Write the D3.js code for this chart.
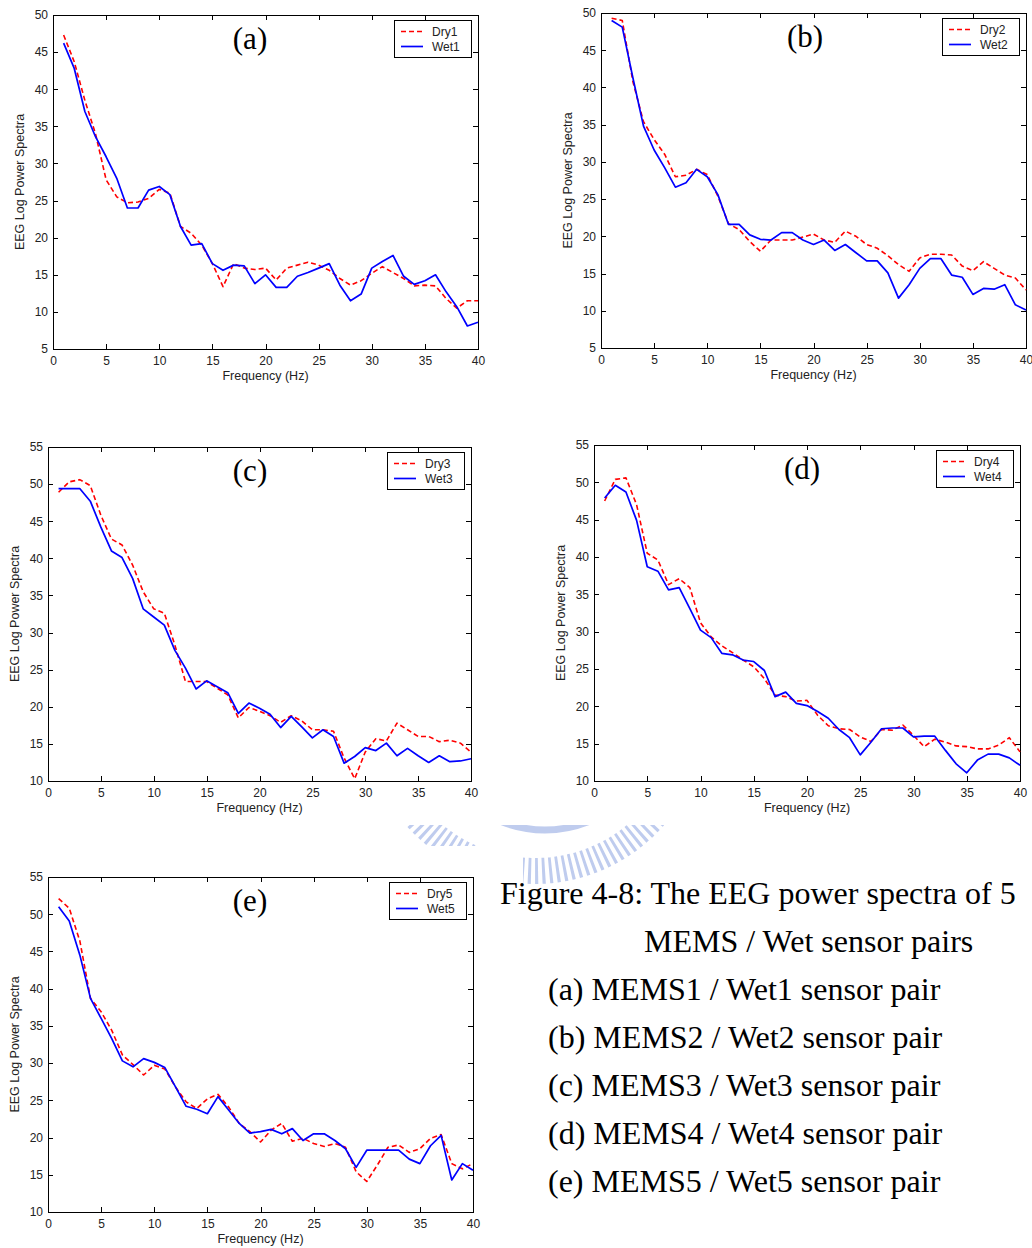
<!DOCTYPE html>
<html><head><meta charset="utf-8">
<script src="https://cdn.jsdelivr.net/npm/d3@7"></script>
<style>body{margin:0;background:#fff} svg{display:block}</style>
</head><body>
<svg id="chart" width="1032" height="1248"></svg>
<script>
// ---------- data ----------
const freqs = d3.range(1, 41);
const xTicks = [0, 5, 10, 15, 20, 25, 30, 35, 40];
const yTicksLow = [5, 10, 15, 20, 25, 30, 35, 40, 45, 50];
const yTicksHigh = [10, 15, 20, 25, 30, 35, 40, 45, 50, 55];
const panelLabels = ["(a)", "(b)", "(c)", "(d)", "(e)"];
const dryNames = ["Dry1", "Dry2", "Dry3", "Dry4", "Dry5"];
const wetNames = ["Wet1", "Wet2", "Wet3", "Wet4", "Wet5"];
const xLabel = "Frequency (Hz)";
const yLabel = "EEG Log Power Spectra";

const dry1 = [47.3,43.7,38.5,34,27.8,25.5,24.7,24.8,25.3,26.5,26,21.5,20.6,19,16.5,13.4,16.5,15.9,15.7,15.9,14.3,15.9,16.3,16.7,16.3,15.6,14.5,13.6,14.2,15.2,16.1,15.3,14.5,13.5,13.6,13.5,11.8,10.5,11.5,11.5];
const wet1 = [46.2,42.8,37,33.6,30.9,28,24,24,26.4,26.9,25.8,21.5,19,19.2,16.5,15.6,16.3,16.2,13.8,15,13.3,13.3,14.8,15.3,15.9,16.5,13.6,11.5,12.4,15.9,16.8,17.6,14.8,13.7,14.2,15,12.7,10.7,8.1,8.6];
const dry2 = [49.3,49,40.8,35.4,33,31,28,28.2,29,28.3,25.4,21.7,20.9,19.3,18,19.5,19.5,19.5,19.9,20.3,19.5,19.2,20.7,20,18.9,18.4,17.4,16.2,15.3,17.1,17.6,17.6,17.5,16,15.4,16.6,15.7,14.8,14.4,12.8];
const wet2 = [49,48.1,41.3,34.8,31.6,29.2,26.6,27.2,29,28,25.6,21.6,21.6,20.2,19.6,19.5,20.5,20.5,19.5,18.9,19.5,18.1,18.9,17.8,16.7,16.7,15.1,11.7,13.5,15.7,17,17,14.8,14.5,12.2,13,12.9,13.5,10.8,10.1];
const dry3 = [48.9,50.3,50.6,49.8,45.8,42.6,41.8,39.1,35.5,33.2,32.6,28.3,23.4,23.4,23.4,22.5,21.6,18.5,19.9,19.4,18.8,17.9,18.8,18.1,16.9,16.9,16.7,13.1,10.3,13.9,15.7,15.4,17.8,16.9,16,16,15.3,15.5,15.1,13.9];
const wet3 = [49.4,49.4,49.4,47.7,44.2,41,40.1,37.3,33.2,32.1,31,27.6,25.2,22.4,23.5,22.7,21.9,19.1,20.5,19.8,19,17.2,18.7,17.3,15.8,16.9,16,12.4,13.3,14.5,14.1,15.1,13.4,14.4,13.4,12.5,13.4,12.6,12.7,13];
const dry4 = [47.5,50.4,50.6,47,40.5,39.6,36.3,37.1,35.9,31.2,29.3,28.1,27.2,26.2,25.3,23.7,21.5,21.3,20.7,20.8,18.8,17.4,17,16.9,15.9,15.3,16.9,16.8,17.5,16.1,14.6,15.6,15.2,14.7,14.6,14.3,14.3,14.8,15.8,13.9];
const wet4 = [47.9,49.6,48.7,44.9,38.7,38.1,35.6,35.9,33.1,30.2,29.2,27.1,26.9,26.2,26,24.8,21.3,21.9,20.4,20.1,19.3,18.4,16.9,15.8,13.5,15.2,17,17.1,17.1,15.9,16,16,14.1,12.3,11.1,12.8,13.6,13.6,13.1,12.1];
const dry5 = [52.1,50.8,46.4,38.7,36.9,34.4,31.1,29.8,28.4,29.7,29.2,26.8,24.8,23.9,25.2,25.8,24.1,21.9,20.8,19.4,21,21.9,19.5,19.9,19.2,18.8,19.2,18.7,15.4,14.1,16.3,18.7,19,18,18.5,19.9,20.4,16.5,15.8,16.5];
const wet5 = [51,49.1,44.5,38.7,36,33.3,30.3,29.5,30.6,30.1,29.4,26.8,24.2,23.8,23.2,25.5,23.7,21.9,20.6,20.8,21.1,20.5,21.2,19.6,20.5,20.5,19.6,18.5,16,18.3,18.3,18.3,18.3,17.1,16.5,18.9,20.3,14.3,16.5,15.6];

const drySeries = [dry1, dry2, dry3, dry4, dry5];
const wetSeries = [wet1, wet2, wet3, wet4, wet5];

const captionLines = [
  "Figure 4-8: The EEG power spectra of 5",
  "MEMS / Wet sensor pairs",
  "(a) MEMS1 / Wet1 sensor pair",
  "(b) MEMS2 / Wet2 sensor pair",
  "(c) MEMS3 / Wet3 sensor pair",
  "(d) MEMS4 / Wet4 sensor pair",
  "(e) MEMS5 / Wet5 sensor pair"
];

// ---------- layout ----------
const layout = [
  {L: 53,  T: 15,  R: 478,  B: 349,  yDomain: [5, 50],  yTicks: yTicksLow,  labelX: 250},
  {L: 601, T: 13,  R: 1026, B: 348,  yDomain: [5, 50],  yTicks: yTicksLow,  labelX: 805},
  {L: 48,  T: 447, R: 471,  B: 781,  yDomain: [10, 55], yTicks: yTicksHigh, labelX: 250},
  {L: 594, T: 445, R: 1020, B: 781,  yDomain: [10, 55], yTicks: yTicksHigh, labelX: 802},
  {L: 48,  T: 877, R: 473,  B: 1212, yDomain: [10, 55], yTicks: yTicksHigh, labelX: 250}
];
const captionLayout = [
  {x: 500, y: 904}, {x: 644, y: 952}, {x: 548, y: 1000}, {x: 548, y: 1048},
  {x: 548, y: 1096}, {x: 548, y: 1144}, {x: 548, y: 1192}
];

const SANS = "'Liberation Sans', Arial, sans-serif";
const SERIF = "'Liberation Serif', 'Times New Roman', serif";
const RED = "#ff0000", BLUE = "#0000ff", TXT = "#222";

const svg = d3.select("#chart");
svg.append("rect").attr("width", 1032).attr("height", 1248).attr("fill", "#fff");

// ---------- faint watermark (logo fragment) ----------
const defs = svg.append("defs");
defs.append("clipPath").attr("id", "wmclip").append("path")
  .attr("d", "M385,825 L668,825 L668,900 L523,900 L523,846 L385,846 Z");
const wm = svg.append("g").attr("clip-path", "url(#wmclip)").attr("opacity", 0.85);
wm.append("circle").attr("cx", 535).attr("cy", 713).attr("r", 158)
  .attr("fill", "none").attr("stroke", "#b4c3ec").attr("stroke-width", 26)
  .attr("stroke-dasharray", "3 4");
wm.append("circle").attr("cx", 545).attr("cy", 713).attr("r", 117)
  .attr("fill", "none").attr("stroke", "#b4c3ec").attr("stroke-width", 7);

// ---------- panels ----------
layout.forEach((p, i) => {
  const x = d3.scaleLinear().domain([0, 40]).range([p.L, p.R]);
  const y = d3.scaleLinear().domain(p.yDomain).range([p.B, p.T]);
  const g = svg.append("g");

  const styleAxis = sel => {
    sel.select(".domain").remove();
    sel.selectAll(".tick line").attr("stroke", "#000").attr("shape-rendering", "crispEdges");
    sel.selectAll(".tick text").attr("fill", TXT).style("font-family", SANS).style("font-size", "12px");
  };
  g.append("g").attr("transform", `translate(0,${p.B})`)
    .call(d3.axisBottom(x).tickValues(xTicks).tickSizeInner(-5).tickSizeOuter(0).tickPadding(7.5).tickFormat(d3.format("d")))
    .call(styleAxis);
  g.append("g").attr("transform", `translate(0,${p.T})`)
    .call(d3.axisTop(x).tickValues(xTicks).tickSizeInner(-5).tickSizeOuter(0).tickFormat(""))
    .call(styleAxis);
  g.append("g").attr("transform", `translate(${p.L},0)`)
    .call(d3.axisLeft(y).tickValues(p.yTicks).tickSizeInner(-5).tickSizeOuter(0).tickPadding(5).tickFormat(d3.format("d")))
    .call(styleAxis);
  g.append("g").attr("transform", `translate(${p.R},0)`)
    .call(d3.axisRight(y).tickValues(p.yTicks).tickSizeInner(-5).tickSizeOuter(0).tickFormat(""))
    .call(styleAxis);

  g.append("rect").attr("x", p.L + 0.5).attr("y", p.T + 0.5)
    .attr("width", p.R - p.L).attr("height", p.B - p.T)
    .attr("fill", "none").attr("stroke", "#000").attr("stroke-width", 1);

  const line = d3.line().x(d => x(d[0])).y(d => y(d[1]));
  const dry = freqs.map((f, k) => [f, drySeries[i][k]]);
  const wet = freqs.map((f, k) => [f, wetSeries[i][k]]);
  g.append("path").datum(dry).attr("d", line).attr("fill", "none")
    .attr("stroke", RED).attr("stroke-width", 1.6).attr("stroke-dasharray", "5,3")
    .attr("stroke-linejoin", "round");
  g.append("path").datum(wet).attr("d", line).attr("fill", "none")
    .attr("stroke", BLUE).attr("stroke-width", 1.7).attr("stroke-linejoin", "round");

  g.append("text").attr("x", (p.L + p.R) / 2).attr("y", p.B + 31)
    .attr("text-anchor", "middle").attr("fill", TXT)
    .style("font-family", SANS).style("font-size", "12.5px").text(xLabel);
  g.append("text").attr("transform", `translate(${p.L - 29},${(p.T + p.B) / 2}) rotate(-90)`)
    .attr("text-anchor", "middle").attr("fill", TXT)
    .style("font-family", SANS).style("font-size", "12.5px").text(yLabel);

  g.append("text").attr("x", p.labelX).attr("y", p.T + 34)
    .attr("text-anchor", "middle").attr("fill", "#000")
    .style("font-family", SERIF).style("font-size", "31px").text(panelLabels[i]);

  const lx = p.R - 84, ly = p.T + 5;
  const lg = g.append("g");
  lg.append("rect").attr("x", lx + 0.5).attr("y", ly + 0.5).attr("width", 77).attr("height", 37)
    .attr("fill", "#fff").attr("stroke", "#000").attr("stroke-width", 1);
  [[dryNames[i], RED, "5,3"], [wetNames[i], BLUE, null]].forEach((e, k) => {
    const cy = ly + 11.5 + k * 15;
    const ln = lg.append("line").attr("x1", lx + 7).attr("x2", lx + 29).attr("y1", cy).attr("y2", cy)
      .attr("stroke", e[1]).attr("stroke-width", 1.7);
    if (e[2]) ln.attr("stroke-dasharray", e[2]);
    lg.append("text").attr("x", lx + 38).attr("y", cy + 4.2).attr("fill", TXT)
      .style("font-family", SANS).style("font-size", "12px").text(e[0]);
  });
});

// ---------- caption ----------
svg.append("g").selectAll("text").data(captionLines).join("text")
  .attr("x", (d, k) => captionLayout[k].x).attr("y", (d, k) => captionLayout[k].y)
  .attr("fill", "#000").style("font-family", SERIF).style("font-size", "32px")
  .text(d => d);
</script>
</body></html>
